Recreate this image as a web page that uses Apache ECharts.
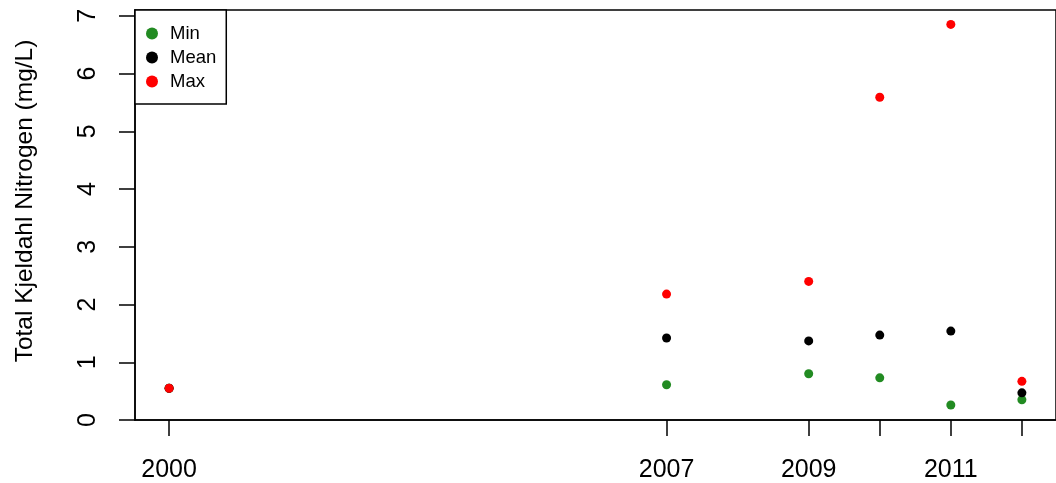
<!DOCTYPE html>
<html>
<head>
<meta charset="utf-8">
<script src="https://cdn.jsdelivr.net/npm/echarts@6/dist/echarts.min.js"></script>
<style>
  html, body { margin: 0; padding: 0; background: #fff; }
  #main { width: 1056px; height: 483px; }
</style>
</head>
<body>
<div id="main"></div>
<script>
    // years sampled and the min / mean / max TKN for each
    var years = [2000, 2007, 2009, 2010, 2011, 2012];
    var minVals = [0.55, 0.61, 0.80, 0.73, 0.26, 0.35];
    var meanVals = [0.55, 1.42, 1.37, 1.47, 1.54, 0.47];
    var maxVals = [0.55, 2.18, 2.40, 5.59, 6.85, 0.67];
    var yearLabels = [2000, 2007, 2009, 2011];
    var yTicks = [0, 1, 2, 3, 4, 5, 6, 7];

    var font = 'Liberation Sans, Arial, sans-serif';

    var pairs = function (vals) {
        return years.map(function (y, i) { return [y, vals[i]]; });
    };

    var myChart = echarts.init(document.getElementById('main'));
    myChart.setOption({
        animation: false,
        grid: {
            left: 135,
            top: 10,
            right: -8,
            bottom: 63,
            show: true,
            borderColor: '#000',
            borderWidth: 1.5,
            backgroundColor: 'transparent'
        },
        legend: {
            left: 135,
            top: 10,
            orient: 'vertical',
            icon: 'circle',
            itemWidth: 26,
            itemHeight: 12,
            itemGap: 5,
            padding: [14, 10, 13, 11],
            borderColor: '#000',
            borderWidth: 1.5,
            backgroundColor: '#fff',
            itemStyle: { opacity: 1 },
            textStyle: { fontFamily: font, fontSize: 18.5, color: '#000', lineHeight: 18 },
            data: ['Min', 'Mean', 'Max']
        },
        xAxis: {
            type: 'value',
            min: 1999.52,
            max: 2012.48,
            axisLine: { show: true, lineStyle: { color: '#000', width: 1.5 } },
            axisTick: { show: true, length: 16, customValues: years, lineStyle: { color: '#000', width: 1.5 } },
            axisLabel: {
                customValues: yearLabels,
                margin: 38,
                fontFamily: font,
                fontSize: 25,
                color: '#000',
                formatter: function (v) { return String(v); }
            },
            splitLine: { show: false }
        },
        yAxis: {
            type: 'value',
            min: 0,
            max: 7.1,
            name: 'Total Kjeldahl Nitrogen (mg/L)',
            nameLocation: 'middle',
            nameGap: 97,
            nameTextStyle: { fontFamily: font, fontSize: 24.5, color: '#000', padding: [0, 0, 0, 28] },
            axisLine: { show: true, lineStyle: { color: '#000', width: 1.5 } },
            axisTick: { show: true, length: 16, customValues: yTicks, lineStyle: { color: '#000', width: 1.5 } },
            axisLabel: {
                customValues: yTicks,
                rotate: 90,
                margin: 34,
                fontFamily: font,
                fontSize: 25,
                color: '#000'
            },
            splitLine: { show: false }
        },
        series: [
            {
                name: 'Min',
                type: 'scatter',
                symbol: 'circle',
                symbolSize: 9,
                itemStyle: { color: '#228B22', opacity: 1 },
                data: pairs(minVals)
            },
            {
                name: 'Mean',
                type: 'scatter',
                symbol: 'circle',
                symbolSize: 9,
                itemStyle: { color: '#000', opacity: 1 },
                data: pairs(meanVals)
            },
            {
                name: 'Max',
                type: 'scatter',
                symbol: 'circle',
                symbolSize: 9,
                itemStyle: { color: '#FF0000', opacity: 1 },
                data: pairs(maxVals)
            }
        ]
    });
</script>
</body>
</html>
